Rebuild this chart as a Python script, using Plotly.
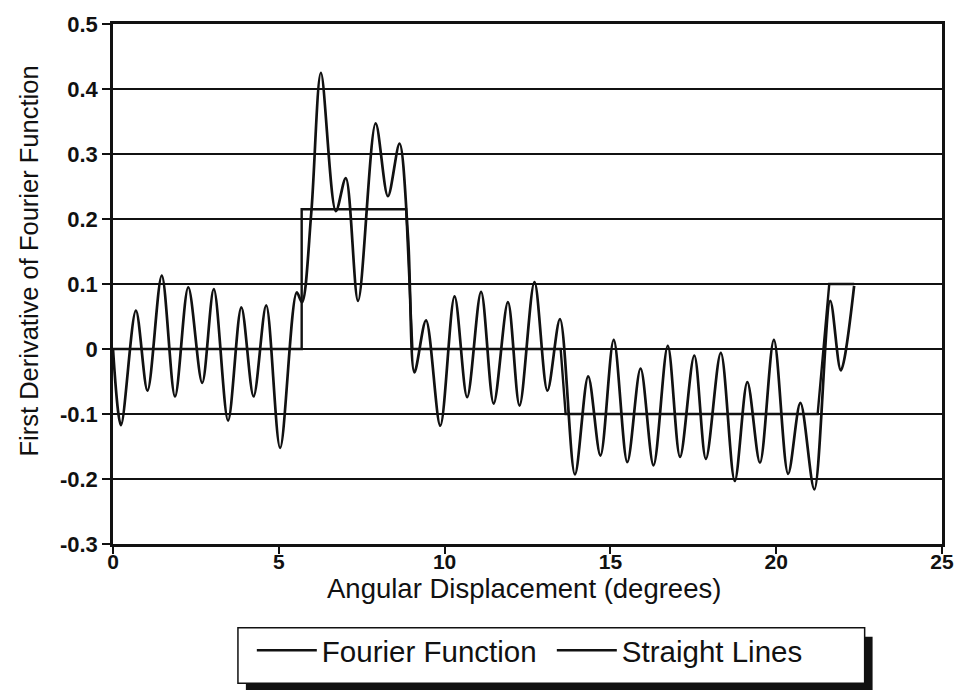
import plotly.graph_objects as go

# Fourier function: first derivative sampled at its turning points (degrees, value)
fourier_x = [0.00, 0.24, 0.69, 1.04, 1.47, 1.87, 2.27, 2.69, 3.04, 3.47, 3.87, 4.24,
             4.62, 5.04, 5.54, 5.70, 5.98, 6.27, 6.72, 7.02, 7.39, 7.92, 8.29, 8.64,
             8.90, 9.09, 9.44, 9.87, 10.30, 10.68, 11.10, 11.48, 11.91, 12.26, 12.71,
             13.10, 13.48, 13.93, 14.33, 14.70, 15.10, 15.51, 15.91, 16.30, 16.73,
             17.10, 17.53, 17.88, 18.33, 18.75, 19.13, 19.51, 19.93, 20.36, 20.73,
             21.15, 21.63, 21.95, 22.35]
fourier_y = [0.000, -0.117, 0.059, -0.064, 0.113, -0.073, 0.095, -0.052, 0.092, -0.110,
             0.064, -0.073, 0.067, -0.152, 0.087, 0.072, 0.210, 0.425, 0.212, 0.263,
             0.074, 0.347, 0.235, 0.316, 0.170, -0.036, 0.044, -0.118, 0.081, -0.074,
             0.088, -0.084, 0.072, -0.087, 0.103, -0.064, 0.046, -0.193, -0.042, -0.164,
             0.014, -0.174, -0.030, -0.179, 0.005, -0.166, -0.010, -0.169, -0.006,
             -0.203, -0.051, -0.175, 0.014, -0.192, -0.083, -0.216, 0.074, -0.033, 0.097]

# Piecewise straight-line approximation
straight_x = [0.00, 5.69, 5.69, 8.84, 9.03, 13.50, 13.65, 21.25, 21.60, 22.35]
straight_y = [0.000, 0.000, 0.215, 0.215, 0.000, 0.000, -0.100, -0.100, 0.100, 0.100]

y_ticks = [0.5, 0.4, 0.3, 0.2, 0.1, 0.0, -0.1, -0.2, -0.3]
y_tick_text = ["0.5", "0.4", "0.3", "0.2", "0.1", "0", "-0.1", "-0.2", "-0.3"]
x_ticks = [0, 5, 10, 15, 20, 25]
x_tick_text = ["0", "5", "10", "15", "20", "25"]

W, H = 966, 690
ML, MR, MT, MB = 113, 17, 17, 146
PW, PH = W - ML - MR, H - MT - MB

def px_x(p):
    return (p - ML) / PW

def px_y(p):
    return (H - MB - p) / PH

TXT = "Liberation Sans, Arial, Helvetica, sans-serif"
INK = "#111111"

fig = go.Figure()
fig.add_trace(go.Scatter(
    x=fourier_x, y=fourier_y, mode="lines", name="Fourier Function",
    line=dict(color=INK, width=2.7, shape="spline", smoothing=0.9),
))
fig.add_trace(go.Scatter(
    x=straight_x, y=straight_y, mode="lines", name="Straight Lines",
    line=dict(color=INK, width=2.4),
))

# legend frame with drop shadow
fig.add_shape(type="rect", xref="paper", yref="paper", layer="above",
              x0=px_x(247), x1=px_x(879), y0=px_y(693), y1=px_y(638),
              fillcolor=INK, line=dict(width=0))
fig.add_shape(type="rect", xref="paper", yref="paper", layer="above",
              x0=px_x(239), x1=px_x(871), y0=px_y(685), y1=px_y(629),
              fillcolor="white", line=dict(color=INK, width=1.5))

# axis titles
fig.add_annotation(
    text="First Derivative of Fourier Function", textangle=-90,
    xref="paper", yref="paper", x=px_x(28), y=px_y(257),
    xanchor="center", yanchor="middle", showarrow=False,
    font=dict(family=TXT, size=25.5, color=INK),
)
fig.add_annotation(
    text="Angular Displacement (degrees)",
    xref="paper", yref="paper", x=px_x(527), y=px_y(589),
    xanchor="center", yanchor="middle", showarrow=False,
    font=dict(family=TXT, size=27.5, color=INK),
)

fig.update_layout(
    width=W, height=H,
    margin=dict(l=ML, r=MR, t=MT, b=MB),
    paper_bgcolor="white", plot_bgcolor="white",
    showlegend=True,
    legend=dict(
        orientation="h", x=px_x(253), xanchor="left", y=px_y(652), yanchor="middle",
        bgcolor="rgba(0,0,0,0)", borderwidth=0,
        font=dict(family=TXT, size=29.5, color=INK),
        itemwidth=60, entrywidth=225, entrywidthmode="pixels",
    ),
    xaxis=dict(
        range=[0, 25], tickvals=x_ticks, ticktext=x_tick_text,
        ticks="outside", ticklen=7, tickwidth=2, tickcolor=INK,
        ticklabelstandoff=-10,
        showline=True, linewidth=2.5, linecolor=INK, mirror=True,
        showgrid=False, zeroline=False,
        tickfont=dict(family=TXT, size=21, color=INK, weight="bold"),
    ),
    yaxis=dict(
        range=[-0.3, 0.5], tickvals=y_ticks, ticktext=y_tick_text,
        ticks="outside", ticklen=8, tickwidth=2, tickcolor=INK,
        showline=True, linewidth=2.5, linecolor=INK, mirror=True,
        showgrid=True, gridcolor=INK, gridwidth=2.2, zeroline=False,
        tickfont=dict(family=TXT, size=22, color=INK, weight="bold"),
    ),
)

fig.write_html("out.html")
